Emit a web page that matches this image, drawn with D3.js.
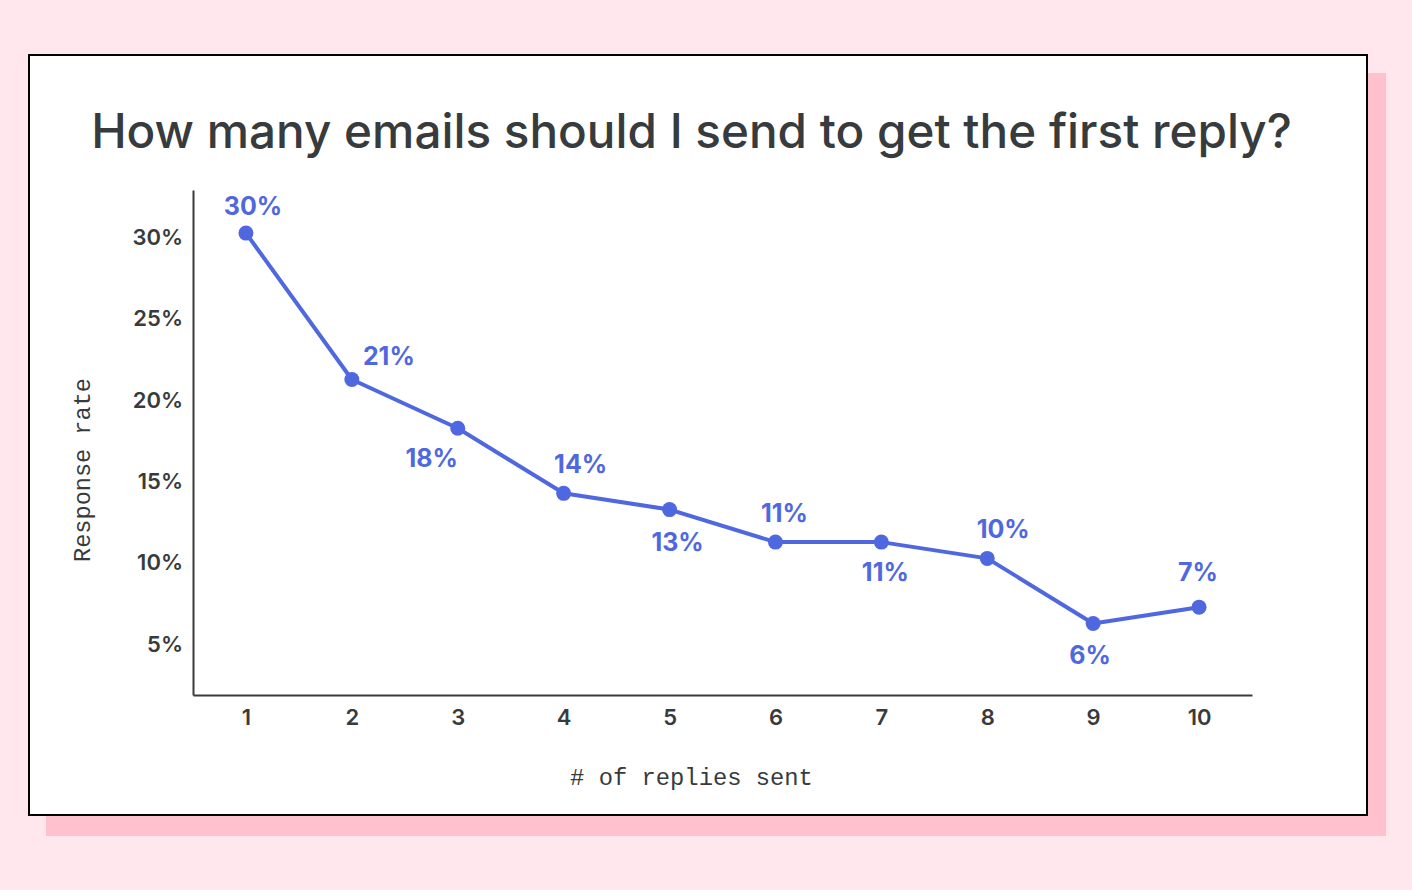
<!DOCTYPE html>
<html>
<head>
<meta charset="utf-8">
<script src="https://cdn.jsdelivr.net/npm/d3@7"></script>
<style>
  html, body { margin: 0; padding: 0; background: #ffe7ed; }
  svg { display: block; }
</style>
</head>
<body>
<svg id="chart" width="1412" height="890"></svg>
<script>
// ---- data ----
const titleText = "How many emails should I send to get the first reply?";
const xAxisTitle = "# of replies sent";
const yAxisTitle = "Response rate";
const replies = [1, 2, 3, 4, 5, 6, 7, 8, 9, 10];
const responseRates = [30, 21, 18, 14, 13, 11, 11, 10, 6, 7];
const rateTicks = [5, 10, 15, 20, 25, 30];
const rateDomain = [1.6, 32.65];

// ---- layout ----
const W = 1412, H = 890;
const card = { x: 29, y: 55, w: 1338, h: 760 };
const shadow = { x: 46, y: 73, w: 1340, h: 763 };
const plot = { left: 193, right: 1252, top: 190, bottom: 695 };
// value label placement relative to each dot: [dx, baseline dy]
const labelOffsets = [[7, -18], [37, -14], [-26, 39], [17, -20], [8, 41],
                      [9, -20], [4, 39], [16, -20], [-3, 41], [-1, -26]];

const ink = "#383b3d";
const blue = "#5068df";
const sans = "Inter, 'Noto Sans', sans-serif";
const mono = "'Liberation Mono', 'DejaVu Sans Mono', monospace";

const svg = d3.select("#chart");

// background card with offset pink shadow
svg.append("rect").attr("x", shadow.x).attr("y", shadow.y)
  .attr("width", shadow.w).attr("height", shadow.h).attr("fill", "#ffc1cd");
svg.append("rect").attr("x", card.x).attr("y", card.y)
  .attr("width", card.w).attr("height", card.h)
  .attr("fill", "#ffffff").attr("stroke", "#000").attr("stroke-width", 2);

// scale text so it spans a given width
function fitWidth(sel, target) {
  const w = sel.node().getComputedTextLength();
  const fs = parseFloat(sel.attr("font-size"));
  sel.attr("font-size", fs * target / w);
}

// title
const title = svg.append("text")
  .attr("x", 691.5).attr("y", 148)
  .attr("text-anchor", "middle")
  .attr("font-family", sans).attr("font-weight", 500)
  .attr("font-size", 48).attr("fill", ink)
  .text(titleText);
fitWidth(title, 1201);

// scales
const x = d3.scalePoint().domain(replies).range([plot.left, plot.right]).padding(0.5);
const y = d3.scaleLinear().domain(rateDomain).range([plot.bottom, plot.top]);

// axes
const yAxis = svg.append("g").attr("transform", `translate(${plot.left},0)`)
  .call(d3.axisLeft(y).tickValues(rateTicks).tickSize(0).tickSizeOuter(0)
    .tickPadding(10).tickFormat(d => d + "%"));
const xAxis = svg.append("g").attr("transform", `translate(0,${plot.bottom})`)
  .call(d3.axisBottom(x).tickSize(0).tickSizeOuter(0).tickPadding(14.4));

[yAxis, xAxis].forEach(g => {
  g.select(".domain").attr("stroke", ink).attr("stroke-width", 2);
  g.selectAll("text").attr("fill", ink)
    .attr("font-family", sans).attr("font-weight", 600).attr("font-size", 22);
});
yAxis.selectAll(".tick text").attr("y", 4.5);

// axis titles
const xt = svg.append("text")
  .attr("x", 691.5).attr("y", 785)
  .attr("text-anchor", "middle")
  .attr("font-family", mono).attr("font-size", 24).attr("fill", ink)
  .text(xAxisTitle);
fitWidth(xt, 243);

const yt = svg.append("text")
  .attr("transform", "translate(90,470) rotate(-90)")
  .attr("text-anchor", "middle")
  .attr("font-family", mono).attr("font-size", 24).attr("fill", ink)
  .text(yAxisTitle);
fitWidth(yt, 184);

// line + dots
const pts = replies.map((r, i) => ({ r, v: responseRates[i], off: labelOffsets[i] }));

svg.append("path")
  .datum(pts)
  .attr("fill", "none").attr("stroke", blue).attr("stroke-width", 4)
  .attr("stroke-linejoin", "round")
  .attr("d", d3.line().x(d => x(d.r)).y(d => y(d.v)));

svg.append("g").selectAll("circle").data(pts).join("circle")
  .attr("cx", d => x(d.r)).attr("cy", d => y(d.v)).attr("r", 7.5)
  .attr("fill", blue);

svg.append("g").selectAll("text").data(pts).join("text")
  .attr("x", d => x(d.r) + d.off[0]).attr("y", d => y(d.v) + d.off[1])
  .attr("text-anchor", "middle")
  .attr("font-family", sans).attr("font-weight", 700).attr("font-size", 25)
  .attr("fill", blue)
  .text(d => d.v + "%");
</script>
</body>
</html>
